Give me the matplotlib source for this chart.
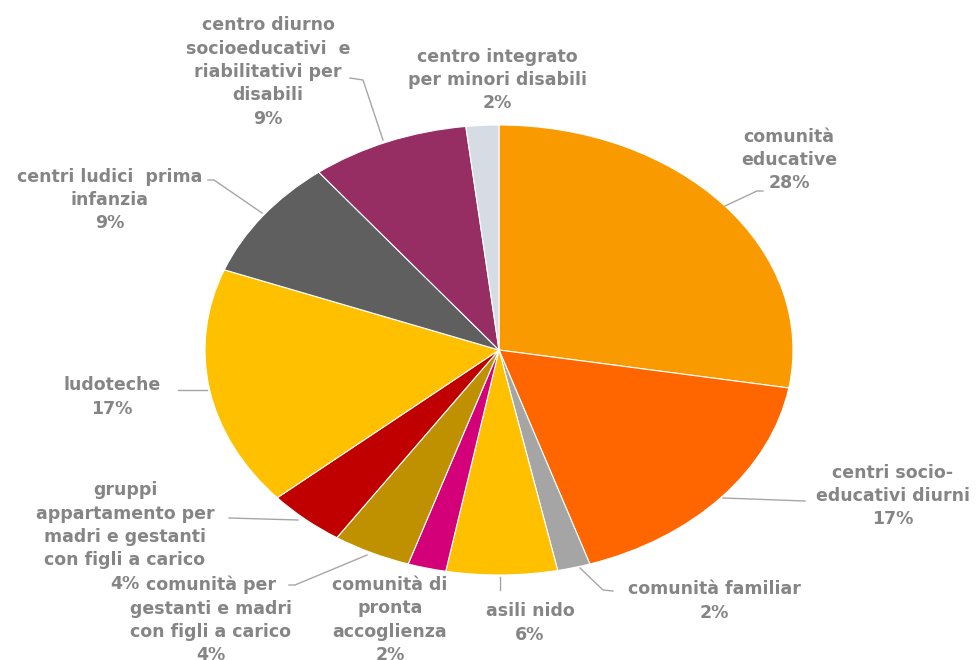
import matplotlib.pyplot as plt

# slice data, clockwise from 12 o'clock
categories = ['comunità educative', 'centri socio-educativi diurni', 'comunità familiar',
              'asili nido', 'comunità di pronta accoglienza',
              'comunità per gestanti e madri con figli a carico',
              'gruppi appartamento per madri e gestanti con figli a carico',
              'ludoteche', 'centri ludici prima infanzia',
              'centro diurno socioeducativi e riabilitativi per disabili',
              'centro integrato per minori disabili']
values = [27.7, 17.3, 1.8, 6.1, 2.1, 4.3, 4.3, 17.2, 8.7, 8.7, 1.8]
pct_labels = ['28%', '17%', '2%', '6%', '2%', '4%', '4%', '17%', '9%', '9%', '2%']
label_text = ['comunità\neducative', 'centri socio-\neducativi diurni', 'comunità familiar',
              'asili nido', 'comunità di\npronta\naccoglienza',
              'comunità per\ngestanti e madri\ncon figli a carico',
              'gruppi\nappartamento per\nmadri e gestanti\ncon figli a carico',
              'ludoteche', 'centri ludici  prima\ninfanzia',
              'centro diurno\nsocioeducativi  e\nriabilitativi per\ndisabili',
              'centro integrato\nper minori disabili']
colors = ['#F99A00', '#FF6600', '#A5A5A5', '#FFC000', '#D4007A', '#BF9000',
          '#C00000', '#FFC000', '#5F5F5F', '#962D63', '#D6DCE4']

# layout in pixel coords: label centre and leader line path
label_pos = [(789, 160), (893, 496), (714, 601), (530, 623), (390, 620), (211, 620),
             (125, 537), (112, 397), (110, 200), (268, 72), (497, 80)]
leaders = [[(725, 206), (757, 191), (763, 191)],
           [(723, 498), (805, 501)],
           [(580, 568), (603, 590), (613, 591)],
           [(500, 577), (500, 590)],
           None,
           [(367, 555), (295, 585), (289, 585)],
           [(298, 520), (229, 518)],
           [(207, 390), (178, 390)],
           [(262, 213), (214, 180), (208, 180)],
           [(383, 140), (363, 80), (350, 78)],
           None]

W, H = 976, 660
cx, cy, rx, ry = 499, 350, 294, 225

fig = plt.figure(figsize=(W / 100, H / 100), dpi=100)
ax = fig.add_axes([0, 0, 1, 1])
ax.pie(values, colors=colors, startangle=90, counterclock=False, radius=1,
       wedgeprops=dict(edgecolor='white', linewidth=0.8))
ax.set_aspect('auto')
ax.set_xlim(-cx / rx, (W - cx) / rx)
ax.set_ylim(-(H - cy) / ry, cy / ry)
ax.axis('off')

lay = fig.add_axes([0, 0, 1, 1])
lay.set_xlim(0, W)
lay.set_ylim(H, 0)
lay.axis('off')
lay.patch.set_alpha(0)

for txt, pct, pos, path in zip(label_text, pct_labels, label_pos, leaders):
    if path is not None:
        xs, ys = zip(*path)
        lay.plot(xs, ys, color='#A6A6A6', linewidth=1)
    lay.text(pos[0], pos[1], txt + '\n' + pct, ha='center', va='center',
             fontsize=12.5, fontweight='bold', color='#858585', linespacing=1.38,
             fontfamily='DejaVu Sans')

fig.savefig('out.png', dpi=100)
